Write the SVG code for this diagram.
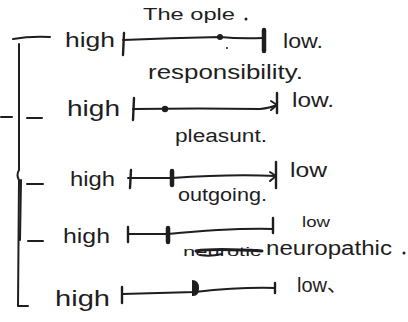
<svg xmlns="http://www.w3.org/2000/svg" width="408" height="322" viewBox="0 0 408 322">
<style>
text{font-family:"Liberation Sans","Noto Sans CJK SC",sans-serif;fill:#1e1e1e}
.ln{fill:none;stroke:#1e1e1e;stroke-width:2;stroke-linecap:round;stroke-linejoin:round}
.tk{fill:none;stroke:#1e1e1e;stroke-width:2.4;stroke-linecap:round}
.bd{fill:none;stroke:#1e1e1e;stroke-width:4.5;stroke-linecap:round}
.dot{fill:#1e1e1e}
</style>
<rect width="408" height="322" fill="#ffffff"/>
<g id="bracket">
<path class="ln" d="M13 39 Q30 36 50 37"/>
<path class="ln" d="M19 44 L19 170 Q16 175 19 180 L18 306 L28 306"/>
<path class="ln" d="M21 180 L20 240"/>
<path class="ln" d="M1 117 L12 117"/>
</g>
<g id="row1">
<text x="143" y="20" font-size="17" textLength="92" lengthAdjust="spacingAndGlyphs">The ople</text>
<circle class="dot" cx="246" cy="19" r="1.5"/>
<text x="65" y="47" font-size="20" textLength="50" lengthAdjust="spacingAndGlyphs">high</text>
<path class="ln" d="M123 40 Q170 38 220 37 Q240 39 263 38"/>
<path class="tk" d="M124 33 L123 55"/>
<circle class="dot" cx="220" cy="37" r="3"/>
<circle class="dot" cx="227" cy="48" r="1"/>
<path class="bd" d="M264 30 L264 51"/>
<text x="283" y="48" font-size="20" textLength="40" lengthAdjust="spacingAndGlyphs">low.</text>
</g>
<g id="row2">
<text x="148" y="79" font-size="20" textLength="155" lengthAdjust="spacingAndGlyphs">responsibility.</text>
<path class="ln" d="M27 118 L42 118"/>
<text x="67" y="116" font-size="22" textLength="53" lengthAdjust="spacingAndGlyphs">high</text>
<path class="ln" d="M133 109 Q200 108 260 109 Q270 108 277 105"/>
<path class="tk" d="M134 98 L133 120"/>
<circle class="dot" cx="165" cy="109" r="3.2"/>
<path class="tk" d="M277 93 L277 113"/>
<path class="ln" d="M271 101 L277 105 L271 110"/>
<text x="292" y="107" font-size="20" textLength="42" lengthAdjust="spacingAndGlyphs">low.</text>
<text x="175" y="142" font-size="18" textLength="92" lengthAdjust="spacingAndGlyphs">pleasunt.</text>
</g>
<g id="row3">
<path class="ln" d="M27 184 L43 184"/>
<text x="70" y="186" font-size="20" textLength="45" lengthAdjust="spacingAndGlyphs">high</text>
<path class="ln" d="M128 178 L172 178 Q230 174 276 176"/>
<path class="tk" d="M131 170 L130 188"/>
<path class="bd" d="M172 171 L172 185"/>
<path class="tk" d="M276 162 L276 188"/>
<path class="ln" d="M270 172 L276 176 L270 181"/>
<text x="290" y="177" font-size="20" textLength="37" lengthAdjust="spacingAndGlyphs">low</text>
<text x="178" y="201" font-size="18" textLength="89" lengthAdjust="spacingAndGlyphs">outgoing.</text>
</g>
<g id="row4">
<path class="ln" d="M28 241 L43 241"/>
<text x="63" y="243" font-size="20" textLength="47" lengthAdjust="spacingAndGlyphs">high</text>
<path class="ln" d="M128 234 L168 234 Q230 228 273 229"/>
<path class="tk" d="M128 227 L128 242"/>
<path class="bd" d="M168 228 L168 242"/>
<path class="tk" d="M273 218 L273 233"/>
<text x="302" y="227" font-size="15" textLength="28" lengthAdjust="spacingAndGlyphs">low</text>
<text x="183" y="256" font-size="13" textLength="78" lengthAdjust="spacingAndGlyphs">neurotic</text>
<path class="ln" style="stroke-width:3" d="M196 251 Q215 248 262 251"/>
<path class="ln" d="M200 255 Q210 257 222 254"/>
<text x="266" y="255" font-size="20" textLength="126" lengthAdjust="spacingAndGlyphs">neuropathic</text>
<circle class="dot" cx="404" cy="253" r="1.5"/>
</g>
<g id="row5">
<text x="55" y="306" font-size="22" textLength="55" lengthAdjust="spacingAndGlyphs">high</text>
<path class="ln" d="M122 294 L195 292 Q240 287 275 288"/>
<path class="tk" d="M122 287 L122 303"/>
<path d="M192 280 Q199 280 199 288 Q199 297 192 296 Z" class="dot"/>
<path class="tk" d="M275 283 L275 293"/>
<text x="297" y="292" font-size="20" textLength="50" lengthAdjust="spacingAndGlyphs">low、</text>
</g>
</svg>
